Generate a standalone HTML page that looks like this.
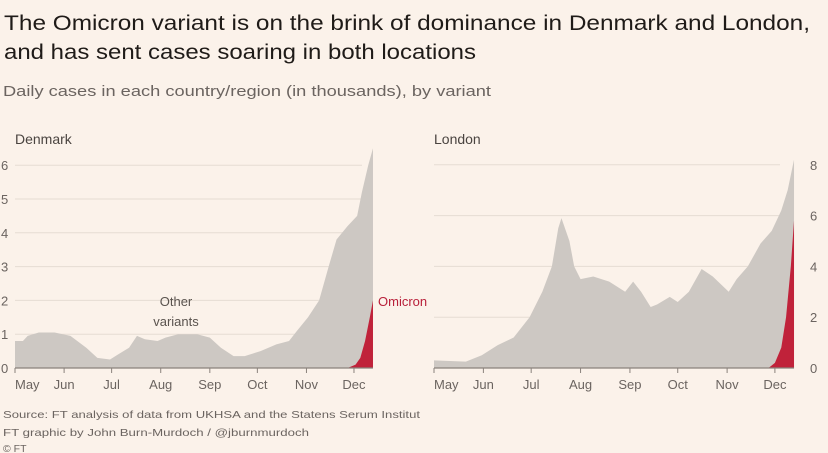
<!DOCTYPE html>
<html><head><meta charset="utf-8"><style>
html,body{margin:0;padding:0;background:#fbf2ea;}
svg{display:block;font-family:"Liberation Sans",sans-serif;}
</style></head><body>
<svg id="c" width="828" height="453" viewBox="0 0 828 453">
<rect width="828" height="453" fill="#fbf2ea"/>
<text x="4" y="30" font-size="21" fill="#1f1b18" textLength="806" lengthAdjust="spacingAndGlyphs">The Omicron variant is on the brink of dominance in Denmark and London,</text>
<text x="4" y="59" font-size="21" fill="#1f1b18" textLength="472" lengthAdjust="spacingAndGlyphs">and has sent cases soaring in both locations</text>
<text x="3" y="96" font-size="15" fill="#6b6460" textLength="488" lengthAdjust="spacingAndGlyphs">Daily cases in each country/region (in thousands), by variant</text>
<text x="15" y="144" font-size="14" fill="#4a4440">Denmark</text>
<text x="434" y="144" font-size="14" fill="#4a4440">London</text>
<g id="dk"></g>
<g id="ld"></g>
<text x="176" y="306" font-size="13" fill="#5a534e" text-anchor="middle">Other</text>
<text x="176" y="326" font-size="13" fill="#5a534e" text-anchor="middle">variants</text>
<text x="378" y="306" font-size="13" fill="#b8203a">Omicron</text>
<text x="3" y="418" font-size="10.5" fill="#6b6460" textLength="417" lengthAdjust="spacingAndGlyphs">Source: FT analysis of data from UKHSA and the Statens Serum Institut</text>
<text x="3" y="436" font-size="10.5" fill="#6b6460" textLength="306" lengthAdjust="spacingAndGlyphs">FT graphic by John Burn-Murdoch / @jburnmurdoch</text>
<text x="3" y="452" font-size="10.5" fill="#6b6460">© FT</text>
</svg>
<script>
// Day index from 1 May
const months = ["May","Jun","Jul","Aug","Sep","Oct","Nov","Dec"];
const monthDays = [0,31,61,92,123,153,184,214];
const dkDays = [0,5,8,15,25,35,45,52,60,65,72,77,82,90,95,103,115,123,130,138,145,155,165,173,178,185,192,198,203,210,216,219,223,226];
const dkTotal = [0.8,0.8,0.95,1.05,1.05,0.95,0.6,0.3,0.25,0.4,0.6,0.95,0.85,0.8,0.9,1.0,1.0,0.9,0.6,0.35,0.35,0.5,0.7,0.8,1.1,1.5,2.0,3.0,3.8,4.2,4.5,5.2,6.0,6.5];
const dkOmiDays = [210,215,218,221,224,226];
const dkOmi = [0,0.1,0.3,0.8,1.5,2.0];
const dkTicks = [0,1,2,3,4,5,6];
const ldDays = [0,20,30,40,50,60,68,74,78,80,85,88,92,100,110,120,125,130,136,140,148,153,160,168,175,185,190,197,205,212,218,222,226];
const ldTotal = [0.3,0.25,0.5,0.9,1.2,2.0,3.0,4.0,5.5,5.9,5.0,4.0,3.5,3.6,3.4,3.0,3.4,3.0,2.4,2.5,2.8,2.6,3.0,3.9,3.6,3.0,3.5,4.0,4.9,5.4,6.2,7.0,8.2];
const ldOmiDays = [210,214,218,221,224,226];
const ldOmi = [0,0.2,0.8,2.0,4.0,5.8];
const ldTicks = [0,2,4,6,8];

const NS="http://www.w3.org/2000/svg";
function mk(tag,attrs,parent){const e=document.createElementNS(NS,tag);for(const k in attrs)e.setAttribute(k,attrs[k]);parent.appendChild(e);return e;}

function panel(g,x0,pxPerDay,y0,pxPerUnit,gridEnd,days,total,oDays,oVals,ticks,tickX,anchor,prefix){
  const X=d=>x0+d*pxPerDay, Y=v=>y0-v*pxPerUnit;
  ticks.forEach(t=>{
    if(t>0){const l=mk('line',{x1:x0,x2:gridEnd,y1:Y(t),y2:Y(t),stroke:'#e6dcd3','stroke-width':1},g);
      
      }
    const tx=mk('text',{x:tickX,y:Y(t)+5,'font-size':13,fill:'#6b6460','text-anchor':anchor},g);
    tx.textContent=t;
    
    
  });
  let d='M'+X(days[0])+','+Y(0);
  days.forEach((dy,i)=>d+=' L'+X(dy)+','+Y(total[i]));
  d+=' L'+X(days[days.length-1])+','+Y(0)+'Z';
  const a=mk('path',{d:d,fill:'#cdc8c3'},g);
  
  
  let o='M'+X(oDays[0])+','+Y(0);
  oDays.forEach((dy,i)=>o+=' L'+X(dy)+','+Y(oVals[i]));
  o+=' L'+X(oDays[oDays.length-1])+','+Y(0)+'Z';
  const r=mk('path',{d:o,fill:'#c0223a'},g);
  
  
  const ax=mk('line',{x1:x0,x2:X(days[days.length-1]),y1:y0,y2:y0,stroke:'#8a827c','stroke-width':1.2},g);
  
  
  months.forEach((m,i)=>{
    const tk=mk('line',{x1:X(monthDays[i]),x2:X(monthDays[i]),y1:y0,y2:y0+5,stroke:'#8a827c','stroke-width':1},g);
    
    
    const t=mk('text',{x:X(monthDays[i]),y:y0+21,'font-size':13,fill:'#6b6460','text-anchor':i==0?'start':'middle'},g);
    t.textContent=m;
    
    
  });
}
panel(document.getElementById('dk'),15,1.584,368,33.8,362,dkDays,dkTotal,dkOmiDays,dkOmi,dkTicks,1,'start','denmark');
panel(document.getElementById('ld'),434,1.593,368,25.4,780,ldDays,ldTotal,ldOmiDays,ldOmi,ldTicks,810,'start','london');
</script>
</body></html>
